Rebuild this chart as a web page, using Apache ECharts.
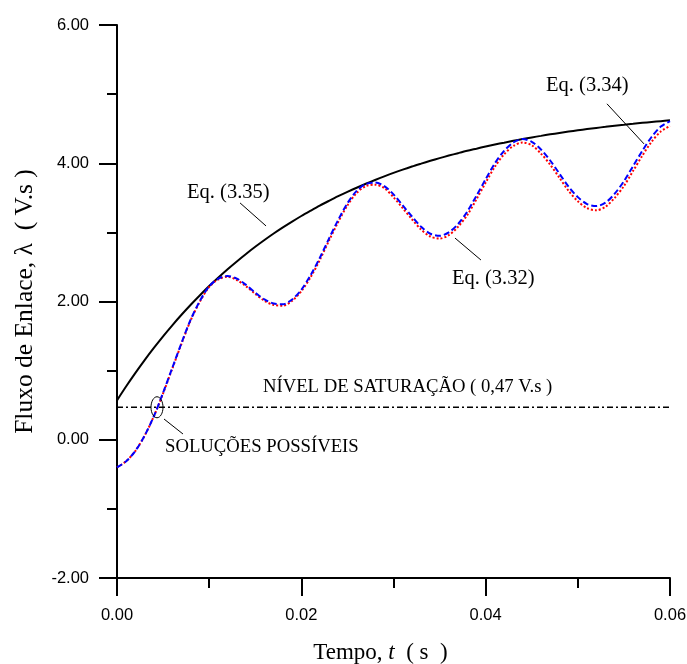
<!DOCTYPE html>
<html>
<head>
<meta charset="utf-8">
<script src="https://cdn.jsdelivr.net/npm/echarts@6/dist/echarts.min.js"></script>
<style>
html,body{margin:0;padding:0;background:#fff;}
#chart{width:687px;height:664px;}
</style>
</head>
<body>
<div id="chart"></div>
<script>
// time (s)
const tempo = [0,0.001,0.002,0.003,0.004,0.005,0.006,0.007,0.008,0.009,
  0.010,0.011,0.012,0.013,0.014,0.015,0.016,0.017,0.018,0.019,
  0.020,0.021,0.022,0.023,0.024,0.025,0.026,0.027,0.028,0.029,
  0.030,0.031,0.032,0.033,0.034,0.035,0.036,0.037,0.038,0.039,
  0.040,0.041,0.042,0.043,0.044,0.045,0.046,0.047,0.048,0.049,
  0.050,0.051,0.052,0.053,0.054,0.055,0.056,0.057,0.058,0.059,0.060];
// Eq. (3.35) - envelope
const eq335 = [0.570,0.774,0.968,1.153,1.329,1.497,1.656,1.808,1.953,2.091,
  2.223,2.347,2.467,2.580,2.688,2.791,2.889,2.983,3.072,3.156,
  3.237,3.313,3.387,3.456,3.523,3.586,3.646,3.703,3.758,3.810,
  3.860,3.907,3.952,3.994,4.035,4.074,4.111,4.146,4.180,4.211,
  4.242,4.271,4.298,4.325,4.350,4.374,4.396,4.418,4.438,4.458,
  4.477,4.494,4.511,4.527,4.543,4.557,4.571,4.585,4.597,4.609,4.621];
// Eq. (3.34) - blue dashed
const eq334 = [-0.40,-0.31,-0.16,0.06,0.34,0.68,1.04,1.40,1.74,2.01,
  2.22,2.33,2.37,2.33,2.24,2.13,2.03,1.97,1.96,2.03,
  2.17,2.38,2.63,2.91,3.18,3.42,3.60,3.70,3.72,3.67,
  3.55,3.39,3.23,3.08,2.98,2.95,3.00,3.12,3.30,3.53,
  3.77,4.00,4.18,4.30,4.35,4.31,4.20,4.04,3.85,3.66,
  3.51,3.41,3.38,3.43,3.56,3.74,3.96,4.18,4.38,4.53,4.61];
// Eq. (3.32) - red dotted
const eq332 = [-0.40,-0.31,-0.16,0.06,0.34,0.67,1.03,1.39,1.73,2.00,
  2.21,2.32,2.36,2.31,2.22,2.11,2.01,1.95,1.94,2.01,
  2.15,2.35,2.60,2.88,3.15,3.39,3.57,3.67,3.69,3.64,
  3.51,3.35,3.19,3.04,2.94,2.91,2.96,3.08,3.25,3.48,
  3.72,3.95,4.13,4.25,4.30,4.26,4.14,3.98,3.79,3.60,
  3.45,3.35,3.32,3.37,3.50,3.67,3.89,4.11,4.31,4.46,4.54];
const saturacao = 0.47;
const tRange = [0, 0.06];
const yTicks = [-2, 0, 2, 4, 6];

const chart = echarts.init(document.getElementById('chart'), null, {renderer:'canvas'});
const pair = arr => tempo.map((x,i)=>[x, arr[i]]);
const serif = '"Liberation Serif","Times New Roman",serif';
const sans = '"Liberation Sans",Arial,sans-serif';

chart.setOption({
  animation:false,
  backgroundColor:'#fff',
  grid:{left:117,right:17,top:25,bottom:86,containLabel:false,outerBoundsMode:'none'},
  xAxis:{
    type:'value', min:tRange[0], max:tRange[1], interval:0.02,
    name:'Tempo, {i|t}  ( s  )', nameLocation:'middle', nameGap:63,
    nameTextStyle:{fontFamily:serif,fontSize:23,color:'#000',padding:[0,26,0,0],
      rich:{i:{fontFamily:serif,fontSize:23,fontStyle:'italic',color:'#000'}}},
    axisLine:{onZero:false,lineStyle:{color:'#000',width:2}},
    axisTick:{show:true,inside:false,length:18,lineStyle:{color:'#000',width:2}},
    minorTick:{show:true,splitNumber:2,length:10,lineStyle:{color:'#000',width:2}},
    splitLine:{show:false},
    axisLabel:{margin:29,fontFamily:sans,fontSize:16.5,color:'#000',formatter:v=>v.toFixed(2)}
  },
  yAxis:{
    type:'value', min:yTicks[0], max:yTicks[yTicks.length-1], interval:2,
    name:'Fluxo de Enlace, λ  ( V.s )', nameLocation:'middle', nameGap:79, nameRotate:90,
    nameTextStyle:{fontFamily:serif,fontSize:25.5,color:'#000'},
    axisLine:{show:true,onZero:false,lineStyle:{color:'#000',width:2}},
    axisTick:{show:true,inside:false,length:18,lineStyle:{color:'#000',width:2}},
    minorTick:{show:true,splitNumber:2,length:10,lineStyle:{color:'#000',width:2}},
    splitLine:{show:false},
    axisLabel:{margin:28,fontFamily:sans,fontSize:16.5,color:'#000',formatter:v=>v.toFixed(2)}
  },
  series:[
    {name:'Eq. (3.35)',type:'line',data:pair(eq335),showSymbol:false,smooth:0.3,
      lineStyle:{color:'#000',width:2},z:3},
    {name:'Saturação',type:'line',data:[[tRange[0],saturacao],[tRange[1],saturacao]],showSymbol:false,
      lineStyle:{color:'#000',width:1.5,type:[6,3,2,3]},z:2},
    {name:'Eq. (3.32)',type:'line',data:pair(eq332),showSymbol:false,smooth:0.3,
      lineStyle:{color:'#ff0000',width:2,type:[2,2]},z:4},
    {name:'Eq. (3.34)',type:'line',data:pair(eq334),showSymbol:false,smooth:0.3,
      lineStyle:{color:'#0000ff',width:2,type:[6,3]},z:5}
  ]
});

// annotations anchored in data coordinates
const P = (t,v) => chart.convertToPixel({gridIndex:0},[t,v]);
function label(text,t,v,size){
  const p = P(t,v);
  return {type:'text',x:p[0],y:p[1],z:10,style:{text:text,font:size+'px '+serif,fill:'#000',align:'left',verticalAlign:'middle'}};
}
function leader(t1,v1,t2,v2){
  const a=P(t1,v1), b=P(t2,v2);
  return {type:'line',z:10,shape:{x1:a[0],y1:a[1],x2:b[0],y2:b[1]},style:{stroke:'#000',lineWidth:1}};
}
const c = P(0.00434, saturacao);
chart.setOption({graphic:[
  label('Eq. (3.35)',0.0076,3.58,20.5),
  leader(0.01335,3.426,0.01617,3.093),
  label('Eq. (3.32)',0.03635,2.33,20.5),
  leader(0.03667,2.918,0.03949,2.60),
  label('Eq. (3.34)',0.04655,5.12,20.5),
  leader(0.05316,4.86,0.05718,4.28),
  label('NÍVEL DE SATURAÇÃO ( 0,47 V.s )',0.01584,0.76,18.7),
  label('SOLUÇÕES POSSÍVEIS',0.00521,-0.105,18.7),
  leader(0.0051,0.30,0.00716,0.083),
  {type:'ellipse',z:10,shape:{cx:c[0],cy:c[1],rx:6,ry:10.5},style:{fill:'none',stroke:'#000',lineWidth:1}}
]});
</script>
</body>
</html>
